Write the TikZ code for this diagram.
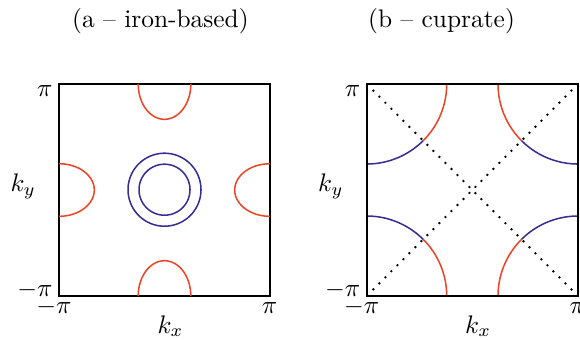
\documentclass[tikz,border=0pt]{standalone}
\usepackage{xcolor}
\definecolor{fsred}{RGB}{238,68,38}
\definecolor{fsblue}{RGB}{55,45,150}
\begin{document}
\begin{tikzpicture}[x=0.394pt,y=-0.394pt,
  frame/.style={line width=0.8pt,black},
  redline/.style={line width=0.6pt,fsred},
  blueline/.style={line width=0.6pt,fsblue},
  diag/.style={line width=0.75pt,black,dash pattern=on 0.75pt off 2.6pt},
  lab/.style={inner sep=0pt}]
\useasboundingbox (0,0) rectangle (580,339);
% titles
\node[lab,anchor=base] (ta) at (160.4,27.5) {(a -- iron-based)};
\node[lab,anchor=base] (tb) at (441.5,27.5) {(b -- cuprate)};
% ---------- panel a ----------
\draw[frame] (59,84) rectangle (270,296);
\draw[redline] plot[domain=0:180,samples=60,smooth] ({164.5+26.3*cos(\x)},{84+35.3*sin(\x)});
\draw[redline] plot[domain=0:180,samples=60,smooth] ({164.5+26.3*cos(\x)},{296-35.3*sin(\x)});
\draw[redline] plot[domain=0:180,samples=60,smooth] ({59+35.3*sin(\x)},{190+26.3*cos(\x)});
\draw[redline] plot[domain=0:180,samples=60,smooth] ({270-35.3*sin(\x)},{190+26.3*cos(\x)});
\draw[blueline] plot[domain=0:360,samples=90,smooth] ({164.5+25.5*cos(\x)},{189.7+25.5*sin(\x)});
\draw[blueline] plot[domain=0:360,samples=90,smooth] ({164.5+36.5*cos(\x)},{189.7+36.5*sin(\x)});
\node[lab,anchor=base east] (a1) at (53,96) {$\pi$};
\node[lab,anchor=base east] (a2) at (53,296) {$-\pi$};
\node[lab,anchor=base] (a3) at (54,313) {$-\pi$};
\node[lab,anchor=base] (a4) at (269.5,313) {$\pi$};
\node[lab,anchor=base west] (a5) at (10,191.5) {$k_y$};
\node[lab,anchor=base west] (a6) at (157,333) {$k_x$};
% ---------- panel b ----------
\draw[diag] (366.7,84) -- (578,296);
\draw[diag] (366.7,296) -- (578,84);
% top-left corner
\draw[redline] plot[domain=0:45,samples=30,smooth] ({366.7+80*cos(\x)},{84+80*sin(\x)});
\draw[blueline] plot[domain=45:90,samples=30,smooth] ({366.7+80*cos(\x)},{84+80*sin(\x)});
% top-right corner
\draw[redline] plot[domain=0:45,samples=30,smooth] ({578-80*cos(\x)},{84+80*sin(\x)});
\draw[blueline] plot[domain=45:90,samples=30,smooth] ({578-80*cos(\x)},{84+80*sin(\x)});
% bottom-left corner
\draw[redline] plot[domain=0:45,samples=30,smooth] ({366.7+80*cos(\x)},{296-80*sin(\x)});
\draw[blueline] plot[domain=45:90,samples=30,smooth] ({366.7+80*cos(\x)},{296-80*sin(\x)});
% bottom-right corner
\draw[redline] plot[domain=0:45,samples=30,smooth] ({578-80*cos(\x)},{296-80*sin(\x)});
\draw[blueline] plot[domain=45:90,samples=30,smooth] ({578-80*cos(\x)},{296-80*sin(\x)});
\draw[frame] (366.7,84) rectangle (578,296);
\node[lab,anchor=base east] (b1) at (360.7,96) {$\pi$};
\node[lab,anchor=base east] (b2) at (360.7,296) {$-\pi$};
\node[lab,anchor=base] (b3) at (361.7,313) {$-\pi$};
\node[lab,anchor=base] (b4) at (577.2,313) {$\pi$};
\node[lab,anchor=base west] (b5) at (317.7,191.5) {$k_y$};
\node[lab,anchor=base west] (b6) at (464.7,333) {$k_x$};
\end{tikzpicture}
\end{document}
